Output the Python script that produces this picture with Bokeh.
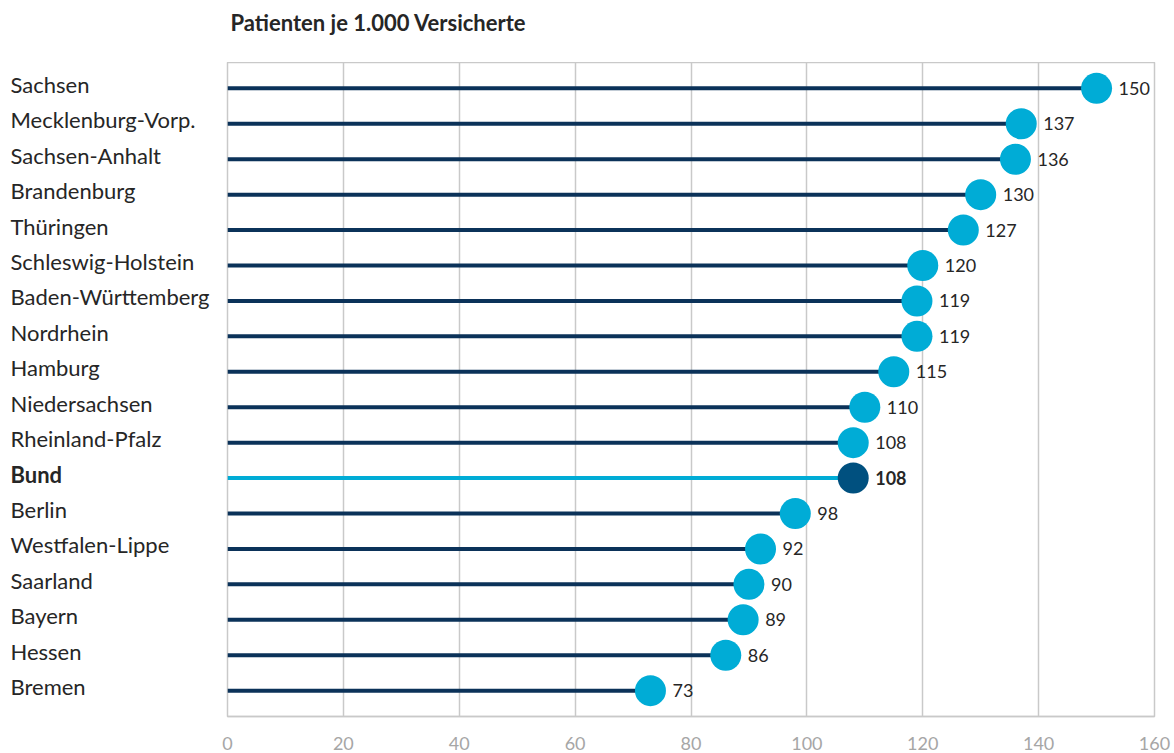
from bokeh.plotting import figure
from bokeh.models import Range1d, ColumnDataSource, FixedTicker
from bokeh.layouts import row, column
from bokeh.core.properties import value
from bokeh.embed import file_html
from bokeh.resources import INLINE

regions = ["Sachsen", "Mecklenburg-Vorp.", "Sachsen-Anhalt", "Brandenburg", "Thüringen",
           "Schleswig-Holstein", "Baden-Württemberg", "Nordrhein", "Hamburg", "Niedersachsen",
           "Rheinland-Pfalz", "Bund", "Berlin", "Westfalen-Lippe", "Saarland", "Bayern",
           "Hessen", "Bremen"]
values = [150, 137, 136, 130, 127, 120, 119, 119, 115, 110, 108, 108, 98, 92, 90, 89, 86, 73]
x_ticks = [0, 20, 40, 60, 80, 100, 120, 140, 160]
highlight = "Bund"
title_text = "Patienten je 1.000 Versicherte"

FONT = "Lato"
NAVY = "#0b3259"
CYAN = "#00acd6"
DARK = "#00507f"
GRID = "#c9c9c9"
TXT = "#262626"

ypos = list(range(len(regions)))
is_hl = [r == highlight for r in regions]

def subset(flag):
    idx = [i for i in ypos if is_hl[i] == flag]
    return ColumnDataSource(dict(
        name=[regions[i] for i in idx],
        val=[values[i] for i in idx],
        y=[ypos[i] for i in idx],
        zero=[0] * len(idx),
        lblx=[10] * len(idx),
        lbl=[str(values[i]) for i in idx],
    ))

src_n = subset(False)
src_h = subset(True)

n = len(regions)
yr = Range1d(n - 1 + 0.73, -0.73)
W, H = 1174, 753
TOP_H = 62
BOTTOM = 37
LEFT_W = 217
BODY_H = H - TOP_H


def bare(fig):
    fig.axis.visible = False
    fig.grid.visible = False
    fig.outline_line_color = None
    return fig

# title strip
tf = bare(figure(width=W, height=TOP_H, output_backend="svg", toolbar_location=None,
                 x_range=Range1d(0, W), y_range=Range1d(TOP_H, 0),
                 min_border_left=0, min_border_right=0, min_border_top=0, min_border_bottom=0))
tf.text(x=[230], y=[22], text=[title_text], text_align="left", text_baseline="middle",
        text_font=value(FONT), text_font_size="22px", text_font_style="bold", text_color=TXT)

# label column
lf = bare(figure(width=LEFT_W, height=BODY_H, output_backend="svg", toolbar_location=None,
                 x_range=Range1d(0, LEFT_W), y_range=yr,
                 min_border_left=0, min_border_right=0, min_border_top=0, min_border_bottom=BOTTOM))
lf.text(x="lblx", y="y", text="name", source=src_n, text_align="left", text_baseline="middle",
        text_font=value(FONT), text_font_size="22px", text_color=TXT, y_offset=-4)
lf.text(x="lblx", y="y", text="name", source=src_h, text_align="left", text_baseline="middle",
        text_font=value(FONT), text_font_size="22px", text_color=TXT, y_offset=-4,
        text_font_style="bold")

# main chart
p = figure(width=W - LEFT_W, height=BODY_H, output_backend="svg", toolbar_location=None,
           x_range=Range1d(0, 160), y_range=yr,
           min_border_left=10, min_border_right=20, min_border_top=0, min_border_bottom=BOTTOM)
p.yaxis.visible = False
p.ygrid.visible = False
p.xaxis.ticker = FixedTicker(ticks=x_ticks)
p.xgrid.ticker = FixedTicker(ticks=x_ticks)
p.xgrid.grid_line_color = GRID
p.xgrid.grid_line_width = 1.5
p.xaxis.axis_line_color = GRID
p.xaxis.axis_line_width = 1.5
p.xaxis.major_tick_line_color = None
p.xaxis.minor_tick_line_color = None
p.xaxis.major_label_text_color = "#a6a6a6"
p.xaxis.major_label_text_font = FONT
p.xaxis.major_label_text_font_size = "18px"
p.xaxis.major_label_standoff = 14
p.outline_line_color = GRID
p.outline_line_width = 1.5

# stems
p.segment(x0="zero", y0="y", x1="val", y1="y", source=src_n, line_color=NAVY, line_width=4)
p.segment(x0="zero", y0="y", x1="val", y1="y", source=src_h, line_color=CYAN, line_width=4)
# dots
p.scatter(x="val", y="y", source=src_n, size=31, marker="circle", fill_color=CYAN, line_color=None)
p.scatter(x="val", y="y", source=src_h, size=31, marker="circle", fill_color=DARK, line_color=None)
# value labels
p.text(x="val", y="y", text="lbl", source=src_n, x_offset=22, text_baseline="middle",
       text_font=value(FONT), text_font_size="18px", text_color=TXT)
p.text(x="val", y="y", text="lbl", source=src_h, x_offset=22, text_baseline="middle",
       text_font=value(FONT), text_font_size="18px", text_color=TXT, text_font_style="bold")

layout = column(tf, row(lf, p))
open("out.html", "w").write(file_html(layout, INLINE))
